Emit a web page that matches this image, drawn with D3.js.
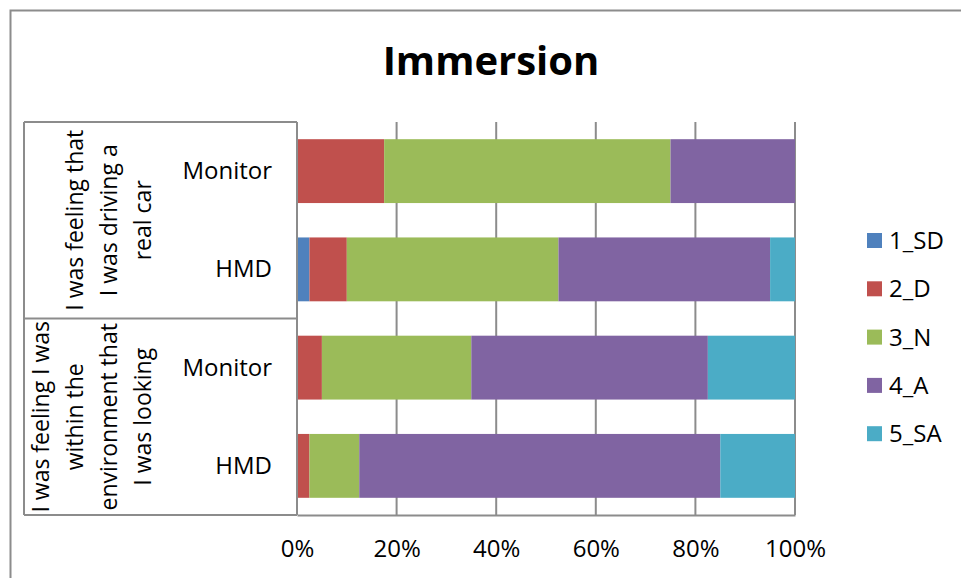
<!DOCTYPE html>
<html>
<head>
<meta charset="utf-8">
<script src="https://cdn.jsdelivr.net/npm/d3@7"></script>
<style>
  html, body { margin: 0; padding: 0; background: #fff; }
  svg { display: block; }
  text { font-family: "Open Sans", "Noto Sans", sans-serif; fill: #000; }
</style>
</head>
<body>
<script>
// ---- data ----
const title = "Immersion";
const groups = [
  ["I was feeling that", "I was driving a", "real car"],
  ["I was feeling I was", "within the", "environment that", "I was looking"]
];
const rowGroup = [0, 0, 1, 1];
const rowLabels = ["Monitor", "HMD", "Monitor", "HMD"];
const seriesNames = ["1_SD", "2_D", "3_N", "4_A", "5_SA"];
const seriesColors = ["#4F81BD", "#C0504D", "#9BBB59", "#8064A2", "#4BACC6"];
// percentages per row (top to bottom)
const sd = [0, 2.5, 0, 0];
const dis = [17.5, 7.5, 5, 2.5];
const neu = [57.5, 42.5, 30, 10];
const agr = [25, 42.5, 47.5, 72.5];
const sa = [0, 5, 17.5, 15];
const tickValues = [0, 0.2, 0.4, 0.6, 0.8, 1.0];

const W = 961, H = 578;
const svg = d3.select("body").append("svg").attr("width", W).attr("height", H);

// outer chart border (left/top visible)
svg.append("rect").attr("x", 10.5).attr("y", 10.5).attr("width", W + 20).attr("height", H + 20)
  .attr("fill", "none").attr("stroke", "#8c8c8c").attr("stroke-width", 2);

const rows = rowLabels.map((l, i) => ({
  key: "r" + i, label: l, group: rowGroup[i],
  "1_SD": sd[i], "2_D": dis[i], "3_N": neu[i], "4_A": agr[i], "5_SA": sa[i]
}));

const plotTop = 122, plotBottom = 515, plotLeft = 297, plotRight = 795;
const x = d3.scaleLinear().domain([0, 1]).range([plotLeft, plotRight]);
const y = d3.scaleBand().domain(rows.map(r => r.key)).range([plotTop, plotBottom])
  .paddingInner(0.35).paddingOuter(0.175);
const color = d3.scaleOrdinal().domain(seriesNames).range(seriesColors);

const gridColor = "#8c8c8c";

// gridlines
svg.append("g").selectAll("line").data(tickValues.filter(t => t > 0)).join("line")
  .attr("x1", d => x(d)).attr("x2", d => x(d))
  .attr("y1", plotTop).attr("y2", plotBottom)
  .attr("stroke", gridColor).attr("stroke-width", 2);

// stacked bars
const stack = d3.stack().keys(seriesNames).value((d, k) => d[k] / 100);
const stacked = stack(rows);
svg.append("g").selectAll("g").data(stacked).join("g")
  .attr("fill", d => color(d.key))
  .selectAll("rect").data(d => d).join("rect")
  .attr("x", d => x(d[0]))
  .attr("width", d => x(d[1]) - x(d[0]))
  .attr("y", d => y(d.data.key))
  .attr("height", y.bandwidth());

// x axis (value axis)
const xAxis = d3.axisBottom(x).tickValues(tickValues).tickSize(0).tickPadding(0)
  .tickFormat(d3.format(".0%"));
const gx = svg.append("g").attr("transform", `translate(0,${plotBottom})`).call(xAxis);
gx.select(".domain").attr("stroke", gridColor).attr("stroke-width", 2);
gx.selectAll("text").attr("font-size", 24).attr("y", 42).attr("dy", null)
  .attr("font-family", "Open Sans").attr("fill", "#000");

// category axis: left vertical line
svg.append("line").attr("x1", plotLeft).attr("x2", plotLeft).attr("y1", plotTop).attr("y2", plotBottom)
  .attr("stroke", gridColor).attr("stroke-width", 2);

// multi-level category box
const boxLeft = 24;
const groupBounds = [plotTop, (plotTop + plotBottom) / 2, plotBottom];
svg.append("g").selectAll("line").data(groupBounds).join("line")
  .attr("x1", boxLeft).attr("x2", plotLeft).attr("y1", d => d).attr("y2", d => d)
  .attr("stroke", gridColor).attr("stroke-width", 2);
svg.append("line").attr("x1", boxLeft).attr("x2", boxLeft).attr("y1", plotTop).attr("y2", plotBottom)
  .attr("stroke", gridColor).attr("stroke-width", 2);

// row labels
svg.append("g").selectAll("text").data(rows).join("text")
  .attr("x", 272).attr("y", d => y(d.key) + y.bandwidth() / 2 + 8)
  .attr("text-anchor", "end").attr("font-size", 24).text(d => d.label);

// group labels (rotated)
const lineStep = 34, lastBaseline = 151;
groups.forEach((lines, gi) => {
  const cy = (groupBounds[gi] + groupBounds[gi + 1]) / 2;
  lines.forEach((ln, li) => {
    const bx = lastBaseline - (lines.length - 1 - li) * lineStep;
    svg.append("text")
      .attr("transform", `translate(${bx},${cy}) rotate(-90)`)
      .attr("text-anchor", "middle").attr("font-size", 23).text(ln);
  });
});

// title
svg.append("text").attr("x", 491).attr("y", 75).attr("text-anchor", "middle")
  .attr("font-size", 40).attr("font-weight", "bold").text(title);

// legend
const lg = svg.append("g").selectAll("g").data(seriesNames).join("g")
  .attr("transform", (d, i) => `translate(867,${240.5 + i * 48.3})`);
lg.append("rect").attr("x", 0).attr("y", -7.5).attr("width", 15).attr("height", 15)
  .attr("fill", d => color(d));
lg.append("text").attr("x", 22).attr("y", 8.5).attr("font-size", 24).text(d => d);
</script>
</body>
</html>
